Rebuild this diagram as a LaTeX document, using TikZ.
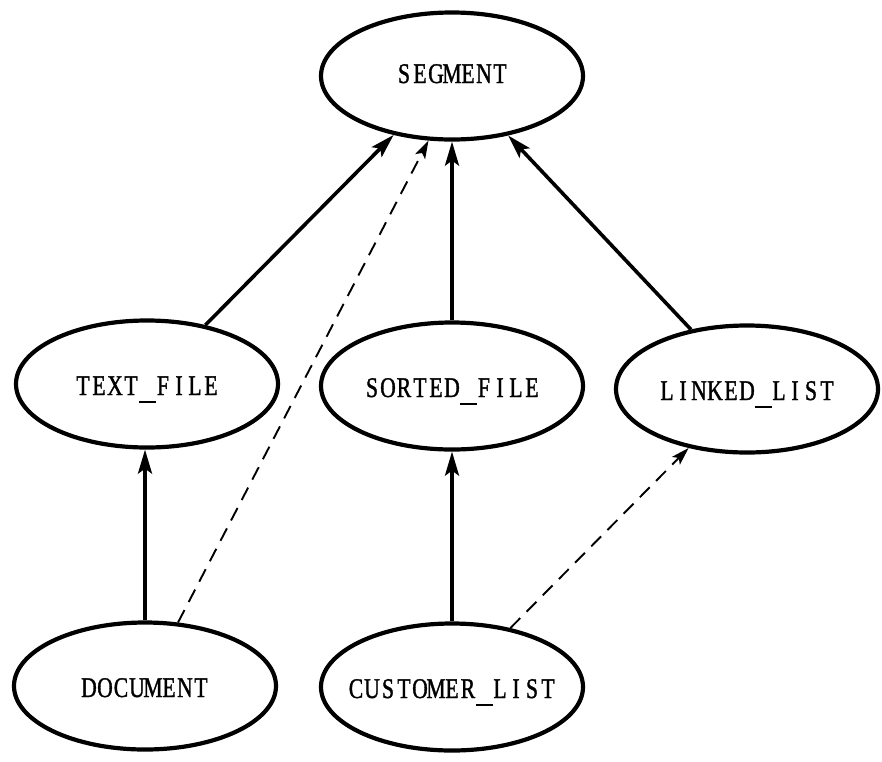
\documentclass[tikz,border=0pt]{standalone}
\usepackage{fontspec}
\usetikzlibrary{shapes.geometric,arrows.meta}
\newfontfamily\lblfont[FakeStretch=0.76,FakeBold=1.2]{Liberation Serif}
% typewriter-style label: every character sits in a cell of fixed width
\newcommand\cellw{16pt}
\def\mono#1{\makebox[0pt]{\monoloop#1\relax}}
\def\monoloop#1{\ifx#1\relax\else\makebox[\cellw]{#1}\expandafter\monoloop\fi}
% low underscore of the typewriter
\def\us{\smash{\rule[-8pt]{17pt}{1.7pt}}}
\begin{document}
\begin{tikzpicture}[x=1pt,y=-1pt,
  cls/.style={ellipse,draw,line width=4.2pt,inner sep=0pt,
    minimum width=262pt,minimum height=127pt,
    text height=22pt,text depth=0pt,
    font=\lblfont\fontsize{28.5}{28.5}\selectfont},
  isa/.style={line width=3.6pt,-{Stealth[length=24pt,width=14pt,inset=5pt]}},
  uses/.style={line width=1.9pt,dash pattern=on 14pt off 9pt,
    -{Stealth[length=18pt,width=11pt,inset=4pt]}}]
\useasboundingbox (0,0) rectangle (882,761);
% class nodes
\node[cls,text height=14pt] (seg) at (452,76)  {\mono{SEGMENT}};
\node[cls] (tf)  at (147,384) {\mono{TEXT\us FILE}};
\node[cls] (sf)  at (452,386) {\mono{SORTED\us FILE}};
\node[cls] (ll)  at (747,389) {\mono{LINKED\us LIST}};
\node[cls] (doc) at (145,686) {\mono{DOCUMENT}};
\node[cls] (cl)  at (452,687) {\mono{CUSTOMER\us LIST}};
% inheritance links
\draw[isa] (tf) -- (seg);
\draw[isa] (sf) -- (seg);
\draw[isa] (ll) -- (seg);
\draw[isa] (doc) -- (doc |- tf.south);
\draw[isa] (cl) -- (sf);
% dashed links
\draw[uses] (doc) -- (seg.-110);
\draw[uses] (cl) -- (ll);
\end{tikzpicture}
\end{document}
